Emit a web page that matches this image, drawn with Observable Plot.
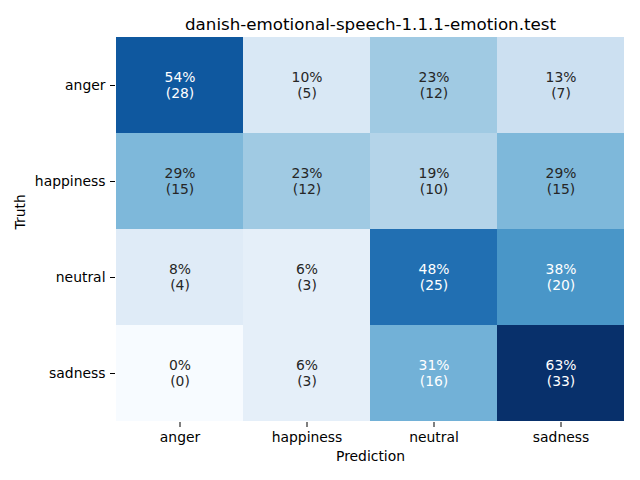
<!DOCTYPE html>
<html>
<head>
<meta charset="utf-8">
<script src="https://cdn.jsdelivr.net/npm/d3@7"></script>
<script src="https://cdn.jsdelivr.net/npm/@observablehq/plot@0.6"></script>
<style>
  body { margin: 0; background: #fff; }
  svg { font-family: "DejaVu Sans", sans-serif; }
</style>
</head>
<body>
<div id="chart"></div>
<script>
const labels = ["anger", "happiness", "neutral", "sadness"];
const truthRows = ["anger", "happiness", "neutral", "sadness"];
const counts = [
  [28, 5, 12, 7],
  [15, 12, 10, 15],
  [4, 3, 25, 20],
  [0, 3, 16, 33]
];
const percents = [
  [54, 10, 23, 13],
  [29, 23, 19, 29],
  [8, 6, 48, 38],
  [0, 6, 31, 63]
];
const title = "danish-emotional-speech-1.1.1-emotion.test";

const cells = [];
truthRows.forEach((t, i) => labels.forEach((p, j) => {
  cells.push({truth: t, pred: p, count: counts[i][j], pct: percents[i][j]});
}));

const chart = Plot.plot({
  width: 640,
  height: 480,
  marginLeft: 115,
  marginRight: 15,
  marginTop: 36,
  marginBottom: 58,
  style: {fontFamily: "DejaVu Sans, sans-serif", fontSize: "13.9px", color: "#000", background: "#fff"},
  x: {domain: labels, padding: 0, label: null},
  y: {domain: truthRows, padding: 0, label: null},
  color: {type: "linear", scheme: "blues", domain: [0, 33]},
  marks: [
    Plot.cell(cells, {x: "pred", y: "truth", fill: "count", inset: 0}),
    Plot.text(cells, {
      x: "pred", y: "truth",
      text: d => `${d.pct}%\n(${d.count})`,
      fill: d => d.count >= 16 ? "#ffffff" : "#262626",
      fontSize: 13.9, lineHeight: 1.2, dy: -1
    }),
    Plot.axisX({tickSize: 5, tickPadding: 5, fontSize: 13.9, label: null}),
    Plot.axisY({tickSize: 5, tickPadding: 5, fontSize: 13.9, label: null}),
    Plot.text([title], {frameAnchor: "top", dy: -18, fontSize: 16.7, fill: "#000"}),
    Plot.text(["Prediction"], {frameAnchor: "bottom", dy: 38, fontSize: 13.9, fill: "#000"}),
    Plot.text(["Truth"], {frameAnchor: "left", dx: -95, rotate: -90, fontSize: 13.9, fill: "#000"})
  ]
});
document.getElementById("chart").appendChild(chart);
</script>
</body>
</html>
